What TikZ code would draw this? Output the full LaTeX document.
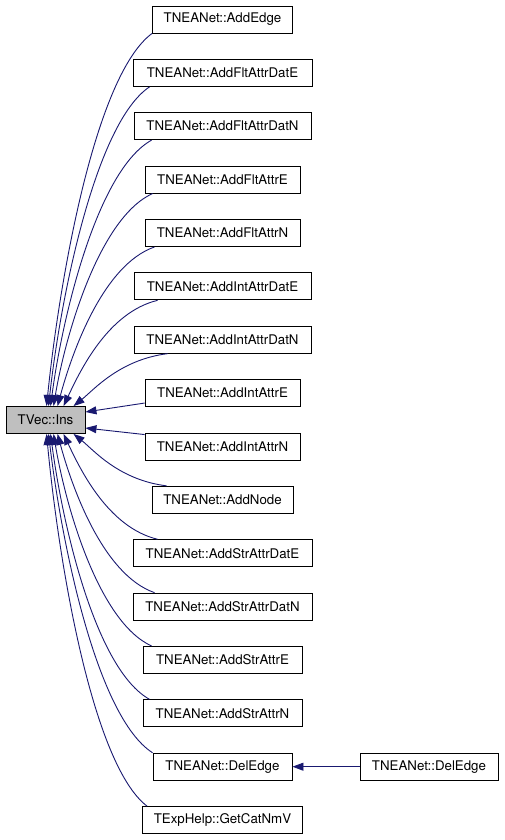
\documentclass[tikz,border=0pt]{standalone}
\usepackage{fontspec}
\setmainfont{TeX Gyre Heros}
\usepackage{tikz}
\usetikzlibrary{calc,arrows.meta,positioning}
\definecolor{edgeblue}{HTML}{191970}
\definecolor{selgray}{HTML}{BFBFBF}

\begin{document}
\begin{tikzpicture}[
        x=1pt, y=-1pt,
        >={Triangle[length=11pt,width=8pt]},
        % styles for boxes and calls
        fnbox/.style={rectangle, draw, line width=0.9pt, text centered, inner sep=0pt, minimum height=27pt, font=\fontsize{13.3}{16}\selectfont},
        selbox/.style={fnbox, fill=selgray},
        call/.style={->, draw=edgeblue, fill=none, line width=0.9pt}
    ]
        \useasboundingbox (0,0) rectangle (504,840);

        % Nodes
        \node[selbox, minimum width=79pt] (ins) at (45.5, 420) {TVec::Ins};

        \node[fnbox, minimum width=140pt] (addedge) at (222.5, 19.5) {TNEANet::AddEdge};
        \node[fnbox, minimum width=179pt] (fltdate) at (222.5, 72.9) {TNEANet::AddFltAttrDatE};
        \node[fnbox, minimum width=177pt] (fltdatn) at (222.5, 126.2) {TNEANet::AddFltAttrDatN};
        \node[fnbox, minimum width=155pt] (flte) at (222.5, 179.6) {TNEANet::AddFltAttrE};
        \node[fnbox, minimum width=155pt] (fltn) at (222.5, 233) {TNEANet::AddFltAttrN};
        \node[fnbox, minimum width=177pt] (intdate) at (222.5, 286.4) {TNEANet::AddIntAttrDatE};
        \node[fnbox, minimum width=177pt] (intdatn) at (222.5, 339.7) {TNEANet::AddIntAttrDatN};
        \node[fnbox, minimum width=155pt] (inte) at (222.5, 393.1) {TNEANet::AddIntAttrE};
        \node[fnbox, minimum width=155pt] (intn) at (222.5, 446.5) {TNEANet::AddIntAttrN};
        \node[fnbox, minimum width=141pt] (addnode) at (222.5, 499.8) {TNEANet::AddNode};
        \node[fnbox, minimum width=179pt] (strdate) at (222.5, 553.2) {TNEANet::AddStrAttrDatE};
        \node[fnbox, minimum width=179pt] (strdatn) at (222.5, 606.6) {TNEANet::AddStrAttrDatN};
        \node[fnbox, minimum width=159pt] (stre) at (222.5, 659.9) {TNEANet::AddStrAttrE};
        \node[fnbox, minimum width=159pt] (strn) at (222.5, 713.3) {TNEANet::AddStrAttrN};
        \node[fnbox, minimum width=139pt] (deledge) at (222.5, 766.7) {TNEANet::DelEdge};
        \node[fnbox, minimum width=160pt] (catnmv) at (222.5, 820.1) {TExpHelp::GetCatNmV};

        \node[fnbox, minimum width=138pt] (delnet) at (429, 766.7) {TNEANet::DelEdge};

        % Calls into TVec::Ins from above
        \draw[call] (addedge.south west) .. controls +(-57,42) and +(13,-127) .. ($(ins.north west)+(41,0)$);
        \draw[call] ($(fltdate.south west)+(17,0)$) .. controls +(-54,36) and +(12,-109) .. ($(ins.north west)+(43,0)$);
        \draw[call] ($(fltdatn.south west)+(18,0)$) .. controls +(-54,30) and +(12,-91) .. ($(ins.north west)+(45,0)$);
        \draw[call] ($(flte.south west)+(8,0)$) .. controls +(-53,24) and +(12,-72) .. ($(ins.north west)+(48,0)$);
        \draw[call] ($(fltn.south west)+(10,0)$) .. controls +(-52,18) and +(14,-52) .. ($(ins.north west)+(52,0)$);
        \draw[call] ($(intdate.south west)+(24,0)$) .. controls +(-50,12) and +(16,-34) .. ($(ins.north west)+(58,0)$);
        \draw[call] ($(intdatn.south west)+(34,0)$) .. controls +(-48,6) and +(20,-16) .. ($(ins.north west)+(68,0)$);

        % Calls from the side
        \draw[call] ($(inte.south west)+(0,-4)$) -- ($(ins.east)+(0,-8)$);
        \draw[call] ($(intn.north west)+(0,2)$) -- ($(ins.east)+(0,8)$);

        % Calls into TVec::Ins from below
        \draw[call] ($(addnode.north west)+(15,0)$) .. controls +(-48,-6) and +(20,16) .. ($(ins.south west)+(68,0)$);
        \draw[call] ($(strdate.north west)+(25,0)$) .. controls +(-50,-12) and +(16,34) .. ($(ins.south west)+(58,0)$);
        \draw[call] ($(strdatn.north west)+(22,0)$) .. controls +(-52,-18) and +(14,52) .. ($(ins.south west)+(52,0)$);
        \draw[call] ($(stre.north west)+(9,0)$) .. controls +(-53,-24) and +(12,72) .. ($(ins.south west)+(48,0)$);
        \draw[call] ($(strn.north west)+(7,0)$) .. controls +(-54,-30) and +(12,91) .. ($(ins.south west)+(45,0)$);
        \draw[call] (deledge.north west) .. controls +(-56,-36) and +(13,109) .. ($(ins.south west)+(43,0)$);
        \draw[call] ($(catnmv.north west)+(5,0)$) .. controls +(-55,-42) and +(12,127) .. ($(ins.south west)+(41,0)$);

        % DelEdge overload
        \draw[call] (delnet) -- (deledge);

    \end{tikzpicture}
\end{document}
